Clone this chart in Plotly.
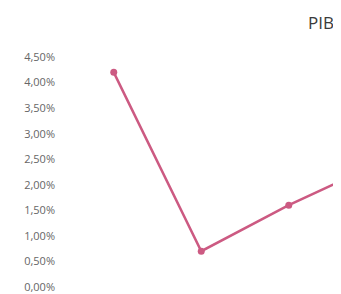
import plotly.graph_objects as go

categories = ["P1", "P2", "P3", "P4"]
pib = [0.042, 0.007, 0.016, 0.024]
tick_vals = [0, 0.005, 0.01, 0.015, 0.02, 0.025, 0.03, 0.035, 0.04, 0.045]

fig = go.Figure()
fig.add_trace(go.Scatter(
    x=list(range(len(categories))), y=pib, mode="lines+markers",
    line=dict(color="#CC5A82", width=2.5),
    marker=dict(color="#CC5A82", size=7),
    cliponaxis=False, showlegend=False,
))

# the page body adds an 8px offset, so the figure is sized to the remaining window
OFF = 8
W, H = 341 - OFF, 294 - OFF
L, T, B = 70 - OFF, 57 - OFF, 7
plot_w = W - L
plot_h = H - T - B
fig.update_layout(
    width=W, height=H,
    margin=dict(l=L, r=0, t=T, b=B, pad=0),
    paper_bgcolor="white", plot_bgcolor="white",
    separators=",.",
    xaxis=dict(range=[-0.5, -0.5 + plot_w / 87.5], showgrid=False, zeroline=False,
               showline=False, showticklabels=False, fixedrange=True),
    yaxis=dict(range=[0, 0.045], tickvals=tick_vals, tickformat=".2%",
               showgrid=False, zeroline=False, showline=False,
               ticklabelstandoff=14,
               tickfont=dict(family="Open Sans", size=11, color="#666666")),
    annotations=[dict(text="PIB", xref="paper", yref="paper",
                      x=(336 - OFF - L) / plot_w, y=(H - B - (22 - OFF)) / plot_h,
                      xanchor="right", yanchor="middle", showarrow=False,
                      font=dict(family="Open Sans", size=17, color="#3A3A3A"))],
)
fig.write_html("out.html")
